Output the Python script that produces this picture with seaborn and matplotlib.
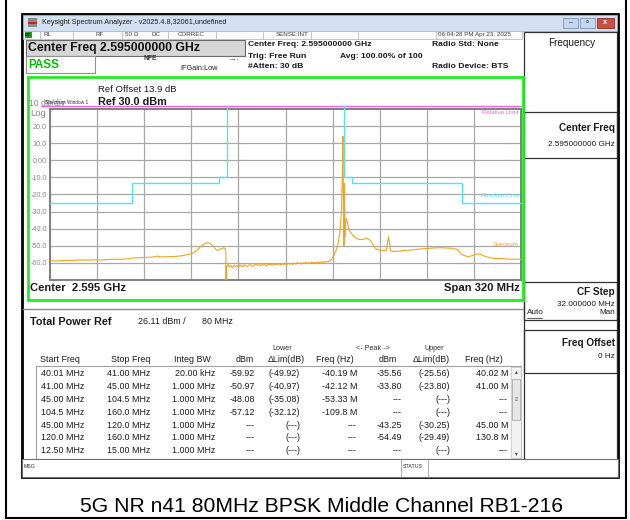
import numpy as np
import pandas as pd
import seaborn as sns
import matplotlib.pyplot as plt
from matplotlib.patches import Rectangle

# spectrum trace (MHz, dBm)
trace_freq = [2435, 2440, 2445, 2450, 2455, 2460, 2465, 2470, 2475, 2480, 2485, 2489, 2491, 2495,
              2500, 2505, 2508, 2510, 2515, 2520, 2525, 2528, 2531, 2533, 2535, 2537, 2539, 2541,
              2542.5, 2544, 2545.5, 2547, 2548.5, 2550, 2551.5, 2553, 2554.2, 2554.5, 2554.6, 2554.8,
              2556, 2557, 2558, 2559, 2560, 2561, 2562, 2563, 2564, 2565, 2566, 2567, 2568, 2569,
              2570, 2571, 2572, 2573, 2574, 2575, 2576, 2577, 2578, 2579, 2580, 2581, 2582, 2583,
              2584, 2585, 2586, 2587, 2588, 2589, 2590, 2591, 2592, 2593, 2594, 2595, 2596, 2597,
              2598, 2599, 2600, 2601, 2602, 2603, 2604, 2605, 2606, 2607, 2608, 2609, 2610, 2611,
              2612, 2613, 2614, 2615, 2616, 2617, 2618, 2619, 2620, 2621, 2622, 2623, 2624, 2625,
              2626, 2627, 2628, 2629, 2630, 2631, 2632, 2633, 2633.6, 2634.0, 2634.4, 2634.7, 2635.0,
              2635.3, 2635.6, 2636.2, 2636.8, 2637.5, 2638.5, 2640, 2641.5, 2643, 2645, 2647, 2648.5,
              2650, 2651.5, 2653, 2654.5, 2656, 2658, 2660, 2662, 2663.5, 2664.3, 2665, 2665.6, 2666.3,
              2668, 2671, 2675, 2680, 2685, 2690, 2695, 2700, 2705, 2709, 2712, 2714, 2716, 2719,
              2721, 2723, 2725.8, 2728, 2731, 2734, 2738, 2742, 2745, 2749, 2752, 2755]
trace_level = [-58.7, -58.9, -58.5, -58.6, -58.3, -58.4, -58.2, -58.3, -58.0, -57.9, -57.8, -57.6, -57.1, -57.0,
               -56.8, -56.6, -56.0, -56.5, -56.4, -56.2, -55.8, -55.2, -54.6, -54.0, -52.5, -50.8, -49.3, -48.5,
               -48.3, -48.8, -49.8, -51.5, -52.6, -52.2, -51.6, -51.2, -51.8, -54.0, -72.0, -62.5,
               -61.0, -62.4, -61.6, -62.8, -61.3, -62.1, -61.5, -62.6, -61.2, -61.9, -62.3, -61.0, -61.8, -62.2,
               -61.4, -60.9, -61.7, -62.0, -61.1, -60.4, -61.5, -61.0, -61.6, -60.8, -61.3, -61.0, -61.7, -60.6,
               -61.2, -60.9, -61.4, -60.7, -61.1, -60.5, -61.0, -60.6, -61.2, -60.3, -60.9, -60.5, -61.0, -60.2,
               -60.8, -60.4, -60.9, -60.1, -60.6, -59.8, -60.5, -60.0, -60.7, -59.9, -60.3, -59.6, -60.4, -59.9,
               -60.2, -59.5, -60.1, -59.7, -60.3, -59.4, -59.9, -59.3, -59.8, -59.2, -59.6, -59.0, -59.4, -58.8,
               -58.2, -57.0, -55.5, -53.5, -51.0, -47.5, -42.0, -30.0, -10.0, 14.0, -30.0, -50.0, -13.5,
               -45.0, -38.0, -34.0, -35.0, -38.5, -41.0, -43.0, -44.6, -45.5, -46.3, -46.4, -46.0,
               -45.5, -46.0, -47.3, -49.5, -51.5, -52.3, -52.6, -52.8, -52.5, -48.0, -44.7, -48.0, -52.9,
               -53.3, -53.2, -52.8, -52.5, -52.0, -51.6, -51.3, -51.1, -51.3, -51.5, -52.3, -54.5, -55.6, -56.3,
               -56.0, -55.3, -54.7, -55.2, -56.3, -57.0, -57.4, -57.5, -57.7, -57.9, -57.8, -58.0]

# limit lines
lower_mask_freq = [2435, 2490.5, 2550, 2555, 2555]
lower_mask_lim = [-25, -13, -10, 31.8, 31.8]
upper_mask_freq = [2635, 2635, 2640, 2715, 2755]
upper_mask_lim = [31.8, -10, -13, -25, -25]
relative_limit = 31.8

y_ticks = [20, 10, 0, -10, -20, -30, -40, -50, -60]
y_tick_labels = ['20.0', '10.0', '0.00', '-10.0', '-20.0', '-30.0', '-40.0', '-50.0', '-60.0']

# result table
start_freq = ['40.01 MHz', '41.00 MHz', '45.00 MHz', '104.5 MHz', '45.00 MHz', '120.0 MHz', '12.50 MHz']
stop_freq = ['41.00 MHz', '45.00 MHz', '104.5 MHz', '160.0 MHz', '120.0 MHz', '160.0 MHz', '15.00 MHz']
integ_bw = ['20.00 kHz', '1.000 MHz', '1.000 MHz', '1.000 MHz', '1.000 MHz', '1.000 MHz', '1.000 MHz']
lower_dbm = ['-59.92', '-50.97', '-48.08', '-57.12', '---', '---', '---']
lower_dlim = ['(-49.92)', '(-40.97)', '(-35.08)', '(-32.12)', '(---)', '(---)', '(---)']
lower_freq = ['-40.19 M', '-42.12 M', '-53.33 M', '-109.8 M', '---', '---', '---']
upper_dbm = ['-35.56', '-33.80', '---', '---', '-43.25', '-54.49', '---']
upper_dlim = ['(-25.56)', '(-23.80)', '(---)', '(---)', '(-30.25)', '(-29.49)', '(---)']
upper_freq = ['40.02 M', '41.00 M', '---', '---', '45.00 M', '130.8 M', '---']

sns.set_theme(style='white')
plt.rcParams['font.family'] = ['Liberation Sans', 'DejaVu Sans']

fig = plt.figure(figsize=(6.3, 5.2), dpi=100)
fig.patch.set_facecolor('white')

# whole-picture pixel canvas for the instrument chrome
bg = fig.add_axes([0, 0, 1, 1])
bg.set_xlim(0, 630)
bg.set_ylim(520, 0)
bg.axis('off')

def box(x0, y0, x1, y1, fc='none', ec='#404040', lw=0.8, z=1):
    bg.add_patch(Rectangle((x0, y0), x1 - x0, y1 - y0, fc=fc, ec=ec, lw=lw, zorder=z))

def txt(x, y, s, size=6.4, ha='left', color='#1a1a1a', weight='normal', **kw):
    bg.text(x, y, s, fontsize=size, ha=ha, va='center', color=color, fontweight=weight, **kw)

# outer frame + window
box(5.5, -3, 625.5, 517.5, ec='black', lw=1.5)
box(22, 14, 618, 477, fc='white', ec='black', lw=2)

# title bar
box(23, 15, 617, 30.5, fc='#d3e0f1', ec='#9fb3cc', lw=0.6)
box(28, 18, 37, 27, fc='#8a8a8a', ec='none')
box(28, 22, 37, 24, fc='#d02020', ec='none')
txt(42, 22.5, 'Keysight Spectrum Analyzer - v2025.4.8,32061,undefined', size=5.2, color='#202020')
box(563, 17.5, 578, 27.5, fc='#c6d6ec', ec='#7d93b2', lw=0.6)
box(580, 17.5, 595, 27.5, fc='#c6d6ec', ec='#7d93b2', lw=0.6)
box(597, 17.5, 614, 27.5, fc='#c9503f', ec='#8d3026', lw=0.6)
txt(570.5, 23, '–', size=5, ha='center', color='#203050')
txt(587.5, 22.5, '▫', size=6, ha='center', color='#203050')
txt(605.5, 22.5, 'x', size=5.5, ha='center', color='white', weight='bold')

# status row
box(23, 30.5, 522, 38.5, fc='#fbfbfb', ec='#b0b0b0', lw=0.5)
for sx in [40, 73, 122, 168, 216, 263, 311, 358, 436]:
    bg.plot([sx, sx], [30.5, 38.5], color='#b0b0b0', lw=0.5)
box(24.5, 31.5, 32, 37.5, fc='#1f9a1f', ec='none')
txt(28.2, 34.6, 'LXI', size=2.8, ha='center', color='black', weight='bold')
for sx, s in [(44, 'RL'), (95, 'RF'), (125, '50 Ω'), (152, 'DC'), (178, 'CORREC'), (276, 'SENSE:INT'),
              (438, '06:04:28 PM Apr 23, 2025')]:
    txt(sx, 34.6, s, size=4.5, color='#404040')

# header block
box(26, 39.5, 245, 55.5, fc='#d6d6d6', ec='#6a6a6a', lw=0.8)
txt(28, 47.5, 'Center Freq 2.595000000 GHz', size=8.8, weight='bold', color='#101010')
box(26, 56, 95, 73, fc='white', ec='#909090', lw=0.8)
txt(28, 64.5, 'PASS', size=8.4, weight='bold', color='#00c000')
txt(144, 59, 'NFE', size=4.8, weight='bold', color='#303030')
txt(234, 58.5, '-→-', size=4.5, ha='center', color='#303030')
txt(180, 68.5, 'IFGain:Low', size=5.3, color='#202020')
txt(248, 45, 'Center Freq: 2.595000000 GHz', size=6.1, weight='bold')
txt(248, 56, 'Trig: Free Run', size=6.1, weight='bold')
txt(248, 67, '#Atten: 30 dB', size=6.1, weight='bold')
txt(340, 56, 'Avg: 100.00% of 100', size=6.1, weight='bold')
txt(432, 45, 'Radio Std: None', size=6.1, weight='bold')
txt(432, 67, 'Radio Device: BTS', size=6.1, weight='bold')

# right soft-key panel
box(524, 32, 617, 460, fc='white', ec='#303030', lw=0.9)
box(524, 112, 617, 158, ec='#303030', lw=0.9)
box(524, 282, 617, 320, ec='#303030', lw=0.9)
box(524, 330, 617, 373, ec='#303030', lw=0.9)
txt(572, 43, 'Frequency', size=7.2, ha='center')
txt(615, 128, 'Center Freq', size=7.2, ha='right', weight='bold')
txt(615, 145, '2.595000000 GHz', size=5.9, ha='right')
txt(615, 292, 'CF Step', size=7.2, ha='right', weight='bold')
txt(615, 304, '32.000000 MHz', size=5.9, ha='right')
txt(527, 313, 'Auto', size=5.9, ha='left')
bg.plot([527, 542], [317.5, 317.5], color='#1a1a1a', lw=0.5)
txt(615, 313, 'Man', size=5.9, ha='right')
txt(615, 343, 'Freq Offset', size=7.2, ha='right', weight='bold')
txt(615, 356, '0 Hz', size=5.9, ha='right')

# graph frame and annotations
box(27.5, 76.5, 522.5, 300, ec='#22ee22', lw=2, z=3)
txt(98, 90, 'Ref Offset 13.9 dB', size=6.8)
txt(98, 102, 'Ref 30.0 dBm', size=7.8, weight='bold')
txt(29, 103, '10 dB/div', size=6.2, color='#8a8a8a')
txt(45, 102.5, 'Spectrum Window 1', size=3.4, color='#303030')
txt(30, 113.5, 'Log', size=6.8, color='#8a8a8a')
txt(30, 288, 'Center  2.595 GHz', size=8.1, weight='bold')
txt(520, 288, 'Span 320 MHz', size=8.1, ha='right', weight='bold')
bg.plot([23, 523], [309, 309], color='#8a8a8a', lw=1)

# power table
txt(30, 322, 'Total Power Ref', size=7.8, weight='bold')
txt(138, 322, '26.11 dBm /', size=6.4)
txt(202, 322, '80 MHz', size=6.4)
for x, s in [(282, 'Lower'), (373, '<- Peak ->'), (434, 'Upper')]:
    txt(x, 348, s, size=5.2, ha='center', color='#303030')
for x, s, ha in [(40, 'Start Freq', 'left'), (150, 'Stop Freq', 'right'), (211, 'Integ BW', 'right'),
                 (254, 'dBm', 'right'), (305, 'ΔLim(dB)', 'right'), (354, 'Freq (Hz)', 'right'),
                 (397, 'dBm', 'right'), (450, 'ΔLim(dB)', 'right'), (503, 'Freq (Hz)', 'right')]:
    txt(x, 359.5, s, size=6.4, ha=ha)
box(36, 366, 521, 459, fc='white', ec='#a0a0a0', lw=0.8)
box(511, 367, 521, 458, fc='#f2f2f2', ec='#c0c0c0', lw=0.5)
box(512, 379, 520, 420, fc='#e6e6e6', ec='#a0a0a0', lw=0.5)
txt(516, 372, '▴', size=4, ha='center', color='#404040')
txt(516, 400, '≡', size=4, ha='center', color='#707070')
txt(516, 454, '▾', size=4, ha='center', color='#404040')
columns = [(start_freq, 41, 'left'), (stop_freq, 150, 'right'), (integ_bw, 215, 'right'),
           (lower_dbm, 255, 'right'), (lower_dlim, 300, 'right'), (lower_freq, 357, 'right'),
           (upper_dbm, 402, 'right'), (upper_dlim, 450, 'right'), (upper_freq, 508, 'right')]
for i in range(len(start_freq)):
    ry = 374 + i * 12.8
    for col, x, ha in columns:
        txt(x, ry, col[i], size=6.4, ha=ha)

# message / status bar
box(22, 459, 618, 477, fc='white', ec='#707070', lw=0.8, z=4)
txt(24, 466, 'MSG', size=3.8, color='#303030', zorder=5)
bg.plot([401, 401], [459, 477], color='#a0a0a0', lw=0.6, zorder=5)
bg.plot([428, 428], [459, 477], color='#a0a0a0', lw=0.6, zorder=5)
txt(403, 466, 'STATUS', size=3.8, color='#303030', zorder=5)

# caption
txt(322, 507, '5G NR n41 80MHz BPSK Middle Channel RB1-216', size=15.2, ha='center', color='black')

# spectrum graticule
ax = fig.add_axes([50 / 630, 1 - 280 / 520, 471 / 630, 171 / 520])
ax.set_facecolor('white')
ax.set_xlim(2435, 2755)
ax.set_ylim(-70, 30)
ax.set_xticks(np.linspace(2435, 2755, 11))
ax.set_xticklabels([])
ax.set_yticks(y_ticks)
ax.set_yticklabels(y_tick_labels)
ax.tick_params(axis='both', length=0, pad=2.2, labelsize=5.2, labelcolor='#8a8a8a')
ax.grid(True, color='#a8a8a8', lw=0.9)
for sp in ax.spines.values():
    sp.set_color('#808080')
    sp.set_linewidth(1.4)

ax.axhline(relative_limit, xmin=-0.02, xmax=1, color='#f060f0', lw=1, clip_on=False, zorder=3)
sns.lineplot(x=lower_mask_freq, y=lower_mask_lim, ax=ax, color='#4fe4ee', lw=1,
             drawstyle='steps-post', sort=False, estimator=None, clip_on=False, zorder=3)
sns.lineplot(x=upper_mask_freq, y=upper_mask_lim, ax=ax, color='#4fe4ee', lw=1,
             drawstyle='steps-post', sort=False, estimator=None, clip_on=False, zorder=3)
trace = pd.DataFrame({'freq': trace_freq, 'level': trace_level})
sns.lineplot(data=trace, x='freq', y='level', ax=ax, color='#f6a21a', lw=0.8,
             sort=False, estimator=None, zorder=4)
ax.set_xlabel('')
ax.set_ylabel('')

ax.text(0.995, 29.2, 'Relative Limit', transform=ax.get_yaxis_transform(), fontsize=4.3,
        color='#f060f0', ha='right', va='top')
ax.text(0.995, -20.5, 'Absolute Limit', transform=ax.get_yaxis_transform(), fontsize=4.3,
        color='#4fe4ee', ha='right', va='center')
ax.text(0.995, -49.5, 'Spectrum', transform=ax.get_yaxis_transform(), fontsize=4.3,
        color='#f6a21a', ha='right', va='center')

fig.savefig('out.png', dpi=100, facecolor='white')
